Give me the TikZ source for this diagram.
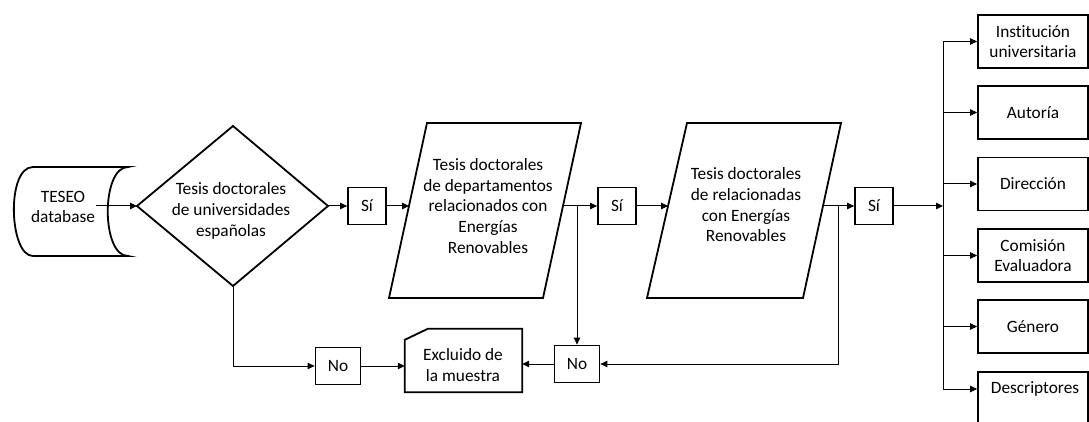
\documentclass[tikz,border=0pt]{standalone}
\usepackage{fontspec}
\setmainfont{Carlito}[Ligatures=NoCommon]
\usetikzlibrary{arrows.meta,calc}
\begin{document}
\begin{tikzpicture}[x=1pt,y=-1pt,
  txt/.style={font=\fontsize{17.3}{20.7}\selectfont},
  shapeline/.style={line width=1.8pt, line join=miter},
  conn/.style={line width=1pt},
  arr/.style={conn,-{Triangle[length=7pt,width=6.5pt]}},
  lbl/.style={txt, align=center, inner sep=0.5pt},
  sbox/.style={txt, draw, line width=1.8pt, minimum width=38pt, minimum height=37pt, inner sep=0pt},
  nbox/.style={txt, draw, line width=1.8pt, minimum width=45pt, minimum height=37pt, inner sep=0pt},
  rbox/.style={txt, draw, line width=1.8pt, minimum width=110pt, minimum height=53pt, inner sep=0pt, align=center}
]
\useasboundingbox (0,0) rectangle (1089,422);

% TESEO database (stored data)
\node[lbl] (teseo) at (63,207) {TESEO\\database};
\draw[shapeline] (80,167) -- (33,167) .. controls (6,167) and (9,256) .. (33,256) -- (128,256)
  .. controls (101,256) and (101,167) .. (128,167) -- cycle;

% decision diamond
\coordinate (dL) at (137,206);
\coordinate (dT) at (233,126);
\coordinate (dR) at (328,206);
\coordinate (dB) at (233,286);
\draw[shapeline] (dL) -- (dT) -- (dR) -- (dB) -- cycle;
\node[lbl] (dia) at (231,211) {Tesis doctorales\\de universidades\\españolas};

\draw[arr] (teseo.east |- dL) -- (dL);

% Si 1
\node[sbox] (si1) at (367,206) {Sí};
\draw[arr] (dR) -- (si1.west);

% parallelogram 1
\coordinate (p1a) at (427,123);
\coordinate (p1b) at (581,123);
\coordinate (p1c) at (543,298);
\coordinate (p1d) at (389,298);
\draw[shapeline] (p1a) -- (p1b) -- (p1c) -- (p1d) -- cycle;
\node[lbl] (p1) at (488,206) {Tesis doctorales\\de departamentos\\relacionados con\\Energías\\Renovables};
\coordinate (p1in) at (409,206);
\coordinate (p1out) at (563,206);
\draw[arr] (si1.east) -- (p1in);

% junction 1 and Si 2
\coordinate (j1) at (577,206);
\node[sbox] (si2) at (617,206) {Sí};
\draw[conn] (p1out) -- (j1);
\draw[arr] (j1) -- (si2.west);

% parallelogram 2
\coordinate (p2a) at (687,123);
\coordinate (p2b) at (841,123);
\coordinate (p2c) at (803,298);
\coordinate (p2d) at (647,298);
\draw[shapeline] (p2a) -- (p2b) -- (p2c) -- (p2d) -- cycle;
\node[lbl] (p2) at (746,205) {Tesis doctorales\\de relacionadas\\con Energías\\Renovables};
\coordinate (p2in) at (668,206);
\coordinate (p2out) at (823,206);
\draw[arr] (si2.east) -- (p2in);

% junction 2 and Si 3
\coordinate (j2) at (838,206);
\node[sbox] (si3) at (874,206) {Sí};
\draw[conn] (p2out) -- (j2);
\draw[arr] (j2) -- (si3.west);

% bottom row
\node[nbox] (no1) at (338,366) {No};
\node[nbox] (no2) at (577,364) {No};
\node[minimum width=117pt, minimum height=63pt, inner sep=0pt] (ex) at (463.5,360.5) {};
\draw[shapeline] (ex.south west) -- (ex.south east) -- (ex.north east)
  -- ($(ex.north west)+(23,0)$) -- ($(ex.north west)+(0,11)$) -- cycle;
\node[lbl] (ext) at (463,365) {Excluido de\\la muestra};

\draw[arr] (dB) |- (no1.west);
\draw[arr] (no1.east) -- (no1.east -| ex.west);
\draw[arr] (j1) -- (no2.north);
\draw[arr] (j2) |- (no2.east);
\draw[arr] (no2.west) -- (no2.west -| ex.east);

% attribute boxes
\node[rbox] (b1) at (1033,41.5) {Institución\\universitaria};
\node[rbox] (b2) at (1033,112.5) {Autoría};
\node[rbox] (b3) at (1033,184) {Dirección};
\node[rbox] (b4) at (1033,255.5) {Comisión\\Evaluadora};
\node[rbox] (b5) at (1033,326.5) {Género};
\node[rbox, minimum height=70pt, anchor=north] (b6) at (1033,371) {};
\node[lbl] (t6) at (1035,389) {Descriptores};

% bus
\coordinate (bus) at (943,206);
\draw[arr] (si3.east) -- (bus);
\draw[conn] (bus |- b1.west) -- (bus |- t6);
\draw[arr] (bus |- b1.west) -- (b1.west);
\draw[arr] (bus |- b2.west) -- (b2.west);
\draw[arr] (bus |- b3.west) -- (b3.west);
\draw[arr] (bus |- b4.west) -- (b4.west);
\draw[arr] (bus |- b5.west) -- (b5.west);
\draw[arr] (bus |- t6) -- (t6 -| b6.west);
\end{tikzpicture}
\end{document}
